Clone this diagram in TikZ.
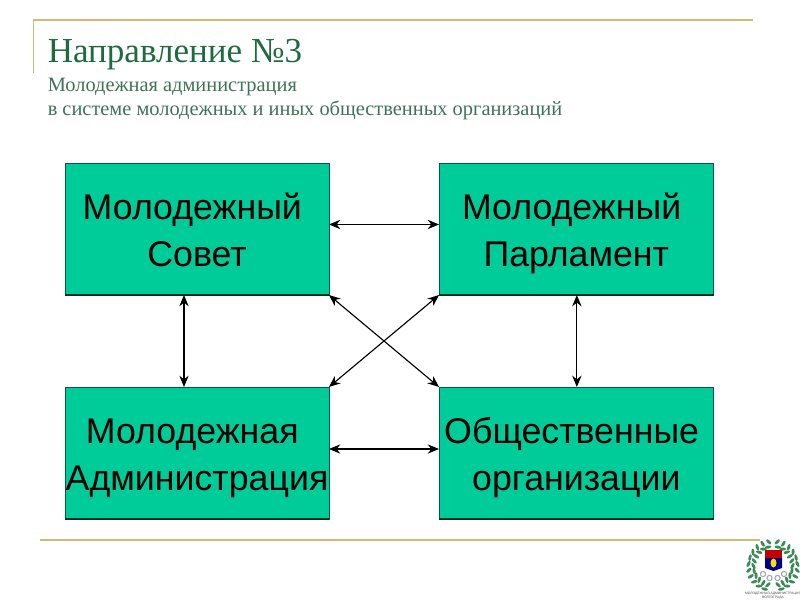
\documentclass[tikz,border=0pt]{standalone}
\usepackage{fontspec}
\setmainfont{Liberation Serif}
\setsansfont{Liberation Sans}
\usetikzlibrary{arrows.meta,calc}
\definecolor{boxgreen}{HTML}{00CC99}
\definecolor{rulegold}{HTML}{D6B874}
\definecolor{titlegreen}{HTML}{1F6B3F}
\definecolor{subgreen}{HTML}{3F7356}
\definecolor{wreath}{HTML}{3C8A55}
\tikzset{
  orgbox/.style={draw=black!55!boxgreen,line width=0.4pt,fill=boxgreen,minimum height=99pt,inner sep=0pt,outer sep=0pt,
    font=\sffamily\fontsize{26.8}{35.25}\selectfont,text=black,align=center,anchor=north west},
  link/.style={line width=0.85pt,draw=black,{Stealth[length=8.5pt,width=7pt]}-{Stealth[length=8.5pt,width=7pt]}},
  goldrule/.style={draw=rulegold,line width=1.4pt},
  boxbase/.style={draw=black!75!boxgreen,line width=1.3pt},
  leaf/.style={fill=wreath,draw=none},
  titletext/.style={anchor=base west,inner sep=0pt,text=titlegreen,font=\fontsize{26.3}{30}\selectfont},
  subtext/.style={anchor=base west,inner sep=0pt,text=subgreen,font=\fontsize{15.3}{18}\selectfont},
}
\newcommand{\pad}{\hspace*{7pt}}
\newcommand{\tops}{\rule{0pt}{29pt}}
\newcommand{\bots}{\rule[-8pt]{0pt}{8pt}}
\begin{document}
\begin{tikzpicture}[x=0.75pt,y=-0.75pt]
\useasboundingbox (0,0) rectangle (800,600);
% frame rules
\draw[goldrule] (33.5,72.5) -- (33.5,20) -- (753,20);
\draw[goldrule] (40,540) -- (760,540);
% titles
\node[titletext] (title) at (47.5,62) {Направление №3};
\node[subtext] (subA) at (47.5,91) {Молодежная администрация};
\node[subtext] (subB) at (47.5,115) {в системе молодежных и иных общественных организаций};
% boxes
\node[orgbox,minimum width=198pt] (sovet) at (65,163) {\tops Молодежный\pad\\Совет\bots};
\node[orgbox,minimum width=206pt] (parl) at (439,163) {\tops Молодежный\pad\\Парламент\bots};
\node[orgbox,minimum width=198pt] (admin) at (65,387) {\tops Молодежная\pad\\Администрация\bots};
\node[orgbox,minimum width=206pt] (obsh) at (439,387) {\tops Общественные\pad\\организации\bots};
\draw[boxbase] (sovet.south west) -- (sovet.south east);
\draw[boxbase] (parl.south west) -- (parl.south east);
\draw[boxbase] (admin.south west) -- (admin.south east);
\draw[boxbase] (obsh.south west) -- (obsh.south east);
% connectors
\draw[link] ([yshift=3.4pt]sovet.east) -- ([yshift=3.4pt]parl.west);
\draw[link] ([yshift=3pt]admin.east) -- ([yshift=3pt]obsh.west);
\draw[link] ([xshift=-9.75pt]sovet.south) -- ([xshift=-9.75pt]admin.north);
\draw[link] ([xshift=0.4pt]parl.south) -- ([xshift=0.4pt]obsh.north);
\draw[link] (sovet.south east) -- (obsh.north west);
\draw[link] (parl.south west) -- (admin.north east);
% emblem: wreath
\foreach \a in {105,120,...,255}{
  \fill[leaf] ($(773,566)+(\a:19.5)$) ellipse[x radius=3.4,y radius=1.5,rotate={\a+90+28}];
  \fill[leaf] ($(773,566)+(\a+5:24.5)$) ellipse[x radius=3.4,y radius=1.5,rotate={\a+90-28}];
}
\foreach \a in {75,60,...,-75}{
  \fill[leaf] ($(773,566)+(\a:19.5)$) ellipse[x radius=3.4,y radius=1.5,rotate={\a+90-28}];
  \fill[leaf] ($(773,566)+(\a-5:24.5)$) ellipse[x radius=3.4,y radius=1.5,rotate={\a+90+28}];
}
% emblem: shield
\fill[red!75!black] (765,550) rectangle (782,558);
\fill[blue!55!black] (765,558) -- (782,558) -- (782,568) -- (773.5,571) -- (765,568) -- cycle;
\fill[yellow!80!orange] (773.5,563) ellipse[x radius=3,y radius=4.5];
% emblem: gears
\draw[black!35,line width=0.8pt] (763,574) circle[radius=2.6] (769.5,578) circle[radius=2.6] (777.5,578) circle[radius=2.6] (784,574) circle[radius=2.6];
\node[inner sep=0pt,font=\sffamily\fontsize{2.5}{2.8}\selectfont,align=center,text=black!70] (cap) at (773,595.5) {МОЛОДЕЖНАЯ АДМИНИСТРАЦИЯ\\ВОЛГОГРАДА};
\end{tikzpicture}
\end{document}
